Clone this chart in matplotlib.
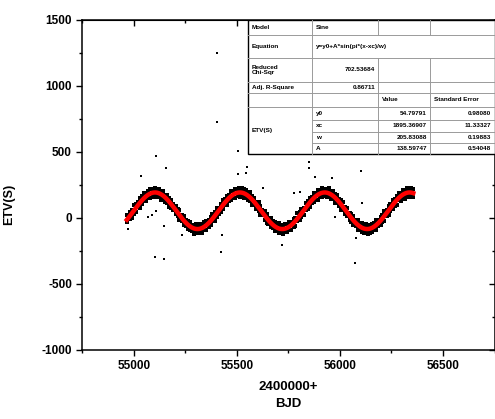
import numpy as np
import matplotlib.pyplot as plt
from matplotlib.ticker import MultipleLocator

plt.rcParams['font.family'] = ['Liberation Sans', 'DejaVu Sans']
plt.rcParams['font.weight'] = 'bold'
plt.rcParams['axes.unicode_minus'] = False

# obserwacje (BJD - 2400000) i ETV w sekundach
bjd = [54968, 54981, 54989, 55001, 55011, 55019, 55031, 55040, 55049, 55061, 55070, 55079, 55091, 55099,
       55103, 55112, 55121, 55133, 55142, 55151, 55162, 55173, 55182, 55191, 55203, 55212, 55221, 55232,
       55241, 55253, 55262, 55271, 55283, 55292, 55301, 55313, 55322, 55331, 55342, 55351, 55363, 55372,
       55381, 55392, 55403, 55411, 55422, 55433, 55441, 55452, 55461, 55473, 55482, 55491, 55503, 55511,
       55515, 55524, 55533, 55545, 55554, 55563, 55575, 55584, 55593, 55605, 55614, 55623, 55634, 55645,
       55653, 55664, 55675, 55684, 55693, 55705, 55714, 55723, 55735, 55744, 55753, 55764, 55775, 55783,
       55794, 55805, 55813, 55824, 55835, 55843, 55854, 55865, 55873, 55884, 55895, 55903, 55914, 55923,
       55927, 55936, 55945, 55957, 55966, 55975, 55987, 55996, 56005, 56017, 56026, 56035, 56047, 56056,
       56065, 56077, 56086, 56095, 56107, 56116, 56125, 56137, 56146, 56155, 56167, 56176, 56185, 56197,
       56206, 56215, 56227, 56236, 56245, 56257, 56266, 56275, 56287, 56296, 56305, 56317, 56326, 56335,
       56339, 56347, 56355]

etv_a = [21, 47, 58, 95, 107, 118, 152, 163, 193, 189, 208, 221, 212, 222,
         229, 216, 220, 205, 207, 175, 171, 150, 139, 104, 91, 65, 60, 26,
         14, -14, -20, -28, -53, -51, -45, -58, -48, -51, -30, -26, -17, 8,
         29, 43, 76, 78, 108, 135, 142, 167, 175, 204, 204, 220, 211, 225,
         215, 229, 216, 210, 192, 195, 166, 155, 122, 118, 89, 63, 54, 29,
         -1, 1, -25, -32, -49, -41, -56, -63, -47, -46, -28, -29, -8, -1,
         36, 44, 69, 77, 115, 125, 148, 160, 191, 187, 210, 213, 226, 216,
         223, 217, 226, 200, 201, 183, 175, 145, 133, 122, 87, 74, 39, 28,
         17, -13, -19, -37, -35, -58, -48, -54, -62, -42, -39, -15, -15, 8,
         24, 52, 57, 91, 104, 139, 141, 166, 190, 193, 210, 208, 229, 222,
         220, 225, 219]

etv_b = [-34, -6, 0, 31, 46, 80, 79, 108, 129, 131, 157, 154, 164, 156,
         165, 157, 166, 139, 142, 124, 116, 85, 73, 62, 27, 13, -19, -25,
         -52, -59, -87, -94, -98, -119, -104, -117, -109, -110, -88, -94, -65, -53,
         -26, -21, 7, 33, 45, 68, 98, 98, 126, 133, 153, 150, 169, 163,
         160, 166, 149, 157, 133, 126, 99, 98, 71, 55, 25, 19, -13, -40,
         -45, -67, -74, -101, -101, -114, -103, -122, -107, -106, -89, -89, -68, -63,
         -26, -17, 9, 21, 58, 69, 80, 111, 121, 138, 139, 163, 157, 167,
         169, 156, 158, 146, 147, 117, 112, 91, 62, 57, 27, 18, -18, -29,
         -52, -57, -90, -90, -108, -110, -106, -120, -110, -108, -86, -92, -64, -54,
         -31, -24, 14, 22, 51, 67, 94, 99, 133, 132, 149, 147, 165, 162,
         158, 169, 160]

# punkty odstające
bjd_out = [55403, 55403, 55107, 55155, 55034, 55505, 55505, 55549, 55544, 55068, 55087,
           55146, 55107, 55233, 55427, 55422, 55102, 55146, 54971, 55850, 55850, 55879,
           55961, 55626, 55777, 56102, 56107, 55976, 56078, 55718, 56073, 55806]
etv_out = [1250, 727, 470, 379, 318, 508, 333, 386, 341, 8, 23,
           -61, 53, -129, -129, -258, -295, -311, -83, 424, 379, 311,
           303, 227, 189, 356, 114, 8, -152, -205, -341, 197]

# parametry dopasowania sinusa (y = y0 + A*sin(pi*(x-xc)/w))
y0, xc, w, A = 54.79791, 1895.36907, 205.83088, 138.59747
fit_start, fit_end = 54966, 56356

x_ticks = [55000, 55500, 56000, 56500]
y_ticks = [-1000, -500, 0, 500, 1000, 1500]

okno = plt.figure(figsize=(4.95, 4.19), dpi=100)
ax = okno.add_axes([0.1663, 0.1647, 0.8327, 0.7876])

ax.plot(bjd, etv_a, 's', color='black', ms=2.6, mew=0, zorder=2)
ax.plot(bjd, etv_b, 's', color='black', ms=2.6, mew=0, zorder=2)
ax.plot(bjd_out, etv_out, 's', color='black', ms=1.6, mew=0, zorder=2)

xf = np.linspace(fit_start, fit_end, 800)
ax.plot(xf, y0 + A * np.sin(np.pi * (xf - xc) / w), color='red', lw=3.2, zorder=3)

ax.set_xlim(54750, 56750)
ax.set_ylim(-1000, 1500)
ax.set_xticks(x_ticks)
ax.set_yticks(y_ticks)
ax.xaxis.set_minor_locator(MultipleLocator(250))
ax.yaxis.set_minor_locator(MultipleLocator(250))
ax.tick_params(which='major', direction='out', length=4, width=1, labelsize=8.5)
ax.tick_params(which='minor', direction='out', length=2.5, width=1)
for s in ax.spines.values():
    s.set_linewidth(1.1)

# ticki do srodka na gorze i po prawej
top = ax.secondary_xaxis('top')
top.set_xticks(x_ticks)
top.xaxis.set_minor_locator(MultipleLocator(250))
top.tick_params(which='both', direction='in', labeltop=False, width=1)
top.tick_params(which='major', length=4)
top.tick_params(which='minor', length=2.5)
right = ax.secondary_yaxis('right')
right.set_yticks(y_ticks)
right.yaxis.set_minor_locator(MultipleLocator(250))
right.tick_params(which='both', direction='in', labelright=False, width=1)
right.tick_params(which='major', length=4)
right.tick_params(which='minor', length=2.5)

ax.set_ylabel('ETV(S)', fontsize=9, fontweight='bold')
ax.yaxis.set_label_coords(-0.163, 0.44)
ax.set_xlabel('2400000+\nBJD', fontsize=9.5, fontweight='bold', linespacing=1.5)
ax.xaxis.set_label_coords(0.5, -0.095)

# tabela z wynikami dopasowania
cols = [0.4026, 0.5578, 0.7181, 0.8444, 1.0]
rows = [1.0, 0.9545, 0.8848, 0.8121, 0.7788, 0.7364, 0.6970, 0.6606, 0.6273, 0.5939]
T = ax.transAxes
ax.add_patch(plt.Rectangle((cols[0], rows[-1]), cols[-1] - cols[0], rows[0] - rows[-1],
                           transform=T, facecolor='white', edgecolor='black', lw=1.0, zorder=5))
for r in rows[1:-1]:
    x_from = cols[1] if r in rows[6:9] else cols[0]
    ax.plot([x_from, cols[-1]], [r, r], transform=T, color='#9a9a9a', lw=0.7, zorder=6)
ax.plot([cols[1], cols[1]], [rows[0], rows[-1]], transform=T, color='#9a9a9a', lw=0.7, zorder=6)
for c in cols[2:4]:
    ax.plot([c, c], [rows[0], rows[1]], transform=T, color='#9a9a9a', lw=0.7, zorder=6)
    ax.plot([c, c], [rows[2], rows[-1]], transform=T, color='#9a9a9a', lw=0.7, zorder=6)

fs = 4.6
def cell(txt, col, row, ha='left', span=1):
    yc = (rows[row] + rows[row + 1]) / 2
    if ha == 'left':
        xx = cols[col] + 0.008
    else:
        xx = cols[col + span] - 0.008
    ax.text(xx, yc, txt, transform=T, fontsize=fs, fontweight='bold', ha=ha, va='center', zorder=7)

cell('Model', 0, 0)
cell('Sine', 1, 0)
cell('Equation', 0, 1)
cell('y=y0+A*sin(pi*(x-xc)/w)', 1, 1)
cell('Reduced\nChi-Sqr', 0, 2)
cell('702.53684', 1, 2, ha='right')
cell('Adj. R-Square', 0, 3)
cell('0.86711', 1, 3, ha='right')
cell('Value', 2, 4)
cell('Standard Error', 3, 4)
ax.text(cols[0] + 0.008, (rows[5] + rows[9]) / 2, 'ETV(S)', transform=T, fontsize=fs,
        fontweight='bold', ha='left', va='center', zorder=7)
names = ['y0', 'xc', 'w', 'A']
values = ['54.79791', '1895.36907', '205.83088', '138.59747']
errors = ['0.98080', '11.33327', '0.19883', '0.54048']
for i in range(4):
    cell(names[i], 1, 5 + i)
    cell(values[i], 2, 5 + i, ha='right')
    cell(errors[i], 3, 5 + i, ha='right')

plt.savefig('out.png', dpi=100)
